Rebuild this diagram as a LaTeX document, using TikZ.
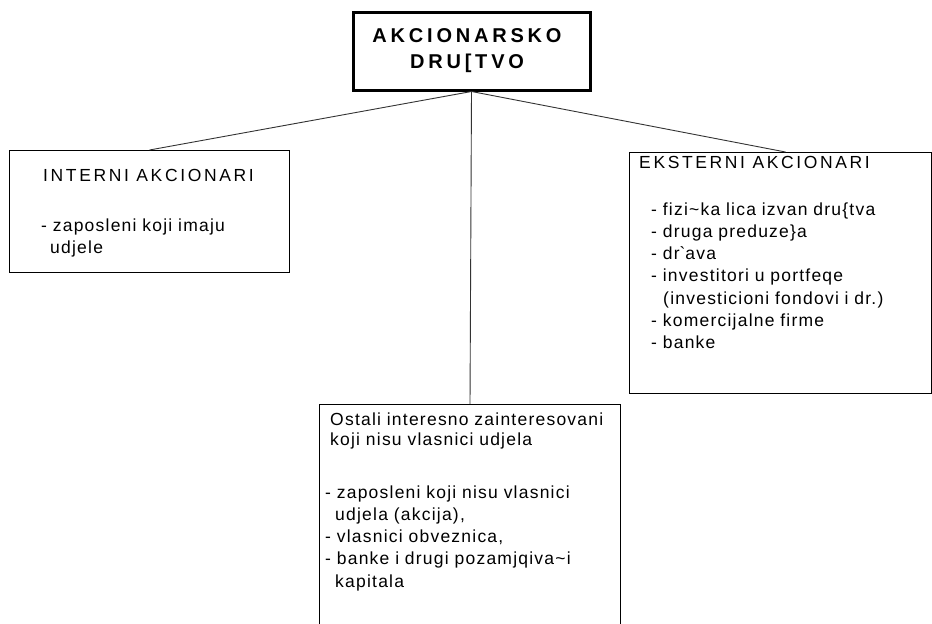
\documentclass[tikz,border=0pt]{standalone}
\usepackage{fontspec}
\setmainfont{Liberation Sans}
\newfontfamily\bodyf[LetterSpace=7]{Liberation Sans}
\newfontfamily\capf[LetterSpace=15]{Liberation Sans}
\newfontfamily\headf[LetterSpace=19]{Liberation Sans}
\begin{document}
\begin{tikzpicture}[x=1pt,y=-1pt,
  box/.style={draw=black, line width=1pt, inner sep=0pt, anchor=north west},
  topbox/.style={draw=black, line width=3pt, inner sep=0pt, anchor=north west},
  conn/.style={draw=black!80, line width=0.9pt},
  captext/.style={inner sep=0pt, anchor=base west, font=\capf\fontsize{17.5}{22.3}\selectfont},
  bodytext/.style={inner sep=0pt, anchor=base west, align=left, font=\bodyf\fontsize{17.5}{22.3}\selectfont},
  headtext/.style={inner sep=0pt, anchor=base, align=center, text width=230pt, font=\headf\bfseries\fontsize{20}{26}\selectfont}]
\useasboundingbox (0,0) rectangle (932,624);
\clip (0,0) rectangle (932,624);
% boxes
\node[topbox, minimum width=237pt, minimum height=78pt] (top) at (351.5,10.5) {};
\node[box, minimum width=280pt, minimum height=122pt] (int) at (9,150) {};
\node[box, minimum width=302pt, minimum height=241pt] (ext) at (629,152) {};
\node[box, minimum width=301pt, minimum height=260pt] (ost) at (319,404) {};
% connectors
\draw[conn] (top.south) -- (int.north);
\draw[conn] (top.south) -- ([xshift=5pt]ext.north);
\draw[conn] (top.south) -- (ost.north);
% texts
\node[headtext] (topT) at (467,42) {AKCIONARSKO\\DRU[TVO};
\node[captext] (intT) at (43,181) {INTERNI AKCIONARI};
\node[bodytext, text width=240pt] (intB) at (41,231) {- zaposleni koji imaju\\\hspace*{9pt}udjele};
\node[captext] (extT) at (639,168) {EKSTERNI AKCIONARI};
\node[bodytext, text width=275pt] (extB) at (651,215) {- fizi\textasciitilde ka lica izvan dru\{tva\\- druga preduze\}a\\- dr\textasciigrave ava\\- investitori u portfeqe\\\hspace*{12pt}(investicioni fondovi i dr.)\\- komercijalne firme\\- banke};
\node[bodytext, text width=285pt] (ostT) at (330,425) {Ostali interesno zainteresovani\\[-2pt]koji nisu vlasnici udjela};
\node[bodytext, text width=285pt] (ostB) at (325,498) {- zaposleni koji nisu vlasnici\\\hspace*{10pt}udjela (akcija),\\- vlasnici obveznica,\\- banke i drugi pozamjqiva\textasciitilde i\\\hspace*{10pt}kapitala};
\end{tikzpicture}
\end{document}
